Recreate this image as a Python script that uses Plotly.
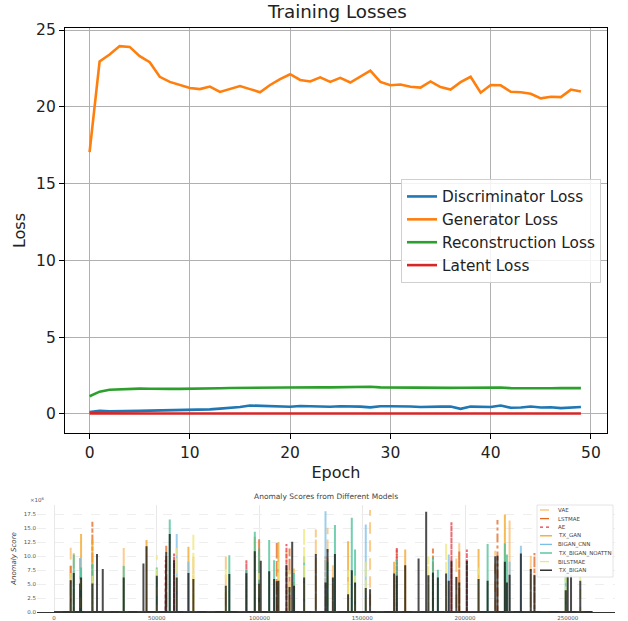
import plotly.graph_objects as go

W, H = 628, 621

# ---------------- Top chart data ----------------
epochs = list(range(50))
disc_loss = [0.12, 0.20, 0.17, 0.17, 0.16, 0.20, 0.22, 0.23, 0.25, 0.25,
             0.27, 0.30, 0.30, 0.35, 0.40, 0.45, 0.55, 0.53, 0.52, 0.48,
             0.47, 0.52, 0.50, 0.47, 0.47, 0.50, 0.50, 0.48, 0.43, 0.50,
             0.50, 0.50, 0.49, 0.45, 0.48, 0.48, 0.48, 0.33, 0.48, 0.48,
             0.45, 0.55, 0.40, 0.42, 0.48, 0.42, 0.44, 0.38, 0.40, 0.45]
gen_loss = [17.05, 22.95, 23.40, 23.95, 23.90, 23.30, 22.90, 21.95, 21.62, 21.42,
            21.22, 21.15, 21.32, 20.97, 21.15, 21.35, 21.15, 20.95, 21.42, 21.80,
            22.12, 21.75, 21.65, 21.92, 21.62, 21.88, 21.58, 21.95, 22.35, 21.62,
            21.40, 21.45, 21.30, 21.25, 21.65, 21.28, 21.12, 21.60, 21.95, 20.92,
            21.42, 21.40, 20.98, 20.95, 20.85, 20.55, 20.65, 20.63, 21.12, 21.00]
rec_loss = [1.15, 1.45, 1.58, 1.62, 1.63, 1.65, 1.64, 1.62, 1.63, 1.63,
            1.63, 1.64, 1.65, 1.67, 1.69, 1.70, 1.71, 1.71, 1.72, 1.73,
            1.75, 1.74, 1.73, 1.74, 1.73, 1.74, 1.73, 1.75, 1.77, 1.73,
            1.72, 1.72, 1.72, 1.71, 1.72, 1.71, 1.70, 1.71, 1.72, 1.70,
            1.72, 1.72, 1.68, 1.67, 1.67, 1.66, 1.67, 1.69, 1.69, 1.68]
lat_loss = [0.04, 0.03, 0.03, 0.03, 0.03, 0.03, 0.03, 0.03, 0.03, 0.03,
            0.03, 0.03, 0.03, 0.03, 0.03, 0.03, 0.03, 0.03, 0.03, 0.03,
            0.03, 0.03, 0.03, 0.03, 0.03, 0.03, 0.03, 0.03, 0.03, 0.03,
            0.03, 0.03, 0.03, 0.03, 0.03, 0.03, 0.03, 0.03, 0.03, 0.03,
            0.03, 0.03, 0.03, 0.03, 0.03, 0.03, 0.03, 0.03, 0.03, 0.03]
loss_names = ["Discriminator Loss", "Generator Loss", "Reconstruction Loss", "Latent Loss"]
loss_colors = ["#1f77b4", "#ff7f0e", "#2ca02c", "#d62728"]
epoch_ticks = [0, 10, 20, 30, 40, 50]
loss_ticks = [0, 5, 10, 15, 20, 25]

# ---------------- Bottom chart data (scores) ----------------
series_end = 262000
vae_x = [8100, 9600, 12650, 33900, 67800, 83600, 113100, 116800, 127400, 133100,
         135700, 153800, 195800, 197200, 214700, 221700, 232000]
vae_y = [12.1e6, 10.8e6, 10.3e6, 11.5e6, 10.0e6, 10.4e6, 11.6e6, 7.8e6, 14.8e6, 15.1e6,
         8.5e6, 18.3e6, 10.0e6, 12.4e6, 11.0e6, 16.4e6, 10.3e6]
lstmae_x = [8100, 18650, 54600, 99800, 108400, 114600, 132100, 166800, 184400, 197200,
            215800, 233800]
lstmae_y = [8.3e6, 16.2e6, 11.9e6, 13.1e6, 12.6e6, 11.4e6, 10.0e6, 11.2e6, 11.4e6, 11.0e6,
            16.5e6, 10.6e6]
ae_x = [54300, 58400, 93600, 113100, 166800, 193400, 200900]
ae_y = [9.3e6, 10.5e6, 9.3e6, 12.2e6, 11.6e6, 16.1e6, 11.2e6]
txgan_x = [13150, 18650, 45000, 65400, 97700, 109200, 143100, 165500, 170900, 206600, 219400]
txgan_y = [14.0e6, 13.0e6, 12.9e6, 11.7e6, 13.5e6, 12.5e6, 12.7e6, 9.0e6, 11.2e6, 11.3e6, 17.5e6]
bigancnn_x = [12650, 59700, 65400, 132100, 151700, 192100, 221700, 227200]
bigancnn_y = [9.7e6, 14.0e6, 9.0e6, 18.1e6, 15.7e6, 10.3e6, 9.0e6, 11.9e6]
noattn_x = [9600, 13150, 18650, 33900, 50000, 56300, 85300, 93600, 97700, 99800,
            104700, 107100, 116800, 121700, 133100, 136700, 144900, 146500, 166800, 184400,
            186800, 211000, 219400, 220400, 249000]
noattn_y = [10.3e6, 8.0e6, 8.7e6, 8.3e6, 8.0e6, 16.6e6, 10.2e6, 7.6e6, 14.4e6, 11.4e6,
            12.9e6, 9.3e6, 7.0e6, 10.0e6, 9.0e6, 15.6e6, 16.9e6, 11.2e6, 9.5e6, 9.8e6,
            7.6e6, 12.2e6, 12.3e6, 10.3e6, 6.8e6]
bilstmae_x = [8100, 12650, 18650, 50000, 59700, 67800, 83600, 99800, 109200, 114600,
              121700, 143100, 146500, 151700, 182200, 190800, 206600, 249000, 256100]
bilstmae_y = [7.0e6, 6.5e6, 6.5e6, 10.2e6, 11.5e6, 14.1e6, 8.5e6, 7.0e6, 9.0e6, 7.5e6,
              15.1e6, 7.5e6, 6.5e6, 9.3e6, 10.0e6, 12.4e6, 8.0e6, 6.5e6, 6.5e6]
txbigan_x = [8100, 9600, 12650, 13150, 18650, 20900, 23700, 33900, 43500, 45000,
             50000, 54300, 54600, 56300, 58400, 59700, 65400, 67800, 83600, 85300,
             93600, 97700, 99800, 100600, 104700, 107100, 108400, 109200, 113100, 114600,
             115900, 116800, 121700, 127400, 132100, 133100, 135700, 136700, 143100, 144900,
             146500, 151700, 153800, 165500, 166800, 170900, 177400, 181100, 182200, 184400,
             186800, 190800, 192100, 193400, 195800, 197200, 200900, 206600, 211000, 214700,
             215800, 219400, 220400, 221700, 227200, 232000, 233800, 249000, 250000, 251600,
             256100]
txbigan_y = [5.7e6, 7.0e6, 5.1e6, 6.2e6, 5.1e6, 10.4e6, 7.7e6, 6.2e6, 8.7e6, 11.8e6,
             6.5e6, 5.7e6, 10.7e6, 14.0e6, 9.3e6, 6.2e6, 7.0e6, 5.9e6, 4.7e6, 6.8e6,
             6.95e6, 10.9e6, 5.05e6, 9.2e6, 7.3e6, 5.9e6, 5.5e6, 5.6e6, 8.5e6, 4.5e6,
             12.6e6, 4.7e6, 6.2e6, 10.4e6, 5.3e6, 11.3e6, 6.2e6, 10.4e6, 3.2e6, 7.5e6,
             5.3e6, 4.3e6, 4.1e6, 6.9e6, 6.5e6, 8.4e6, 9.6e6, 18.0e6, 6.6e6, 7.1e6,
             6.2e6, 6.9e6, 5.6e6, 9.2e6, 6.3e6, 5.3e6, 9.2e6, 5.9e6, 5.6e6, 10.0e6,
             10.1e6, 9.0e6, 5.3e6, 6.7e6, 10.5e6, 7.7e6, 6.6e6, 3.9e6, 6.5e6, 6.6e6,
             5.6e6]
model_names = ["VAE", "LSTMAE", "AE", "TX_GAN", "BIGAN_CNN", "TX_BIGAN_NOATTN", "BILSTMAE", "TX_BIGAN"]
model_x = [vae_x, lstmae_x, ae_x, txgan_x, bigancnn_x, noattn_x, bilstmae_x, txbigan_x]
model_y = [vae_y, lstmae_y, ae_y, txgan_y, bigancnn_y, noattn_y, bilstmae_y, txbigan_y]
model_colors = ["#f9bd6a", "#e2661f", "#e63946", "#f4a522", "#7bbfe9", "#45bf96", "#ede87a", "#111111"]
model_dash = ["dash", "dashdot", "dot", "solid", "solid", "solid", "dash", "solid"]
score_ticks = [0, 2.5e6, 5e6, 7.5e6, 10e6, 12.5e6, 15e6, 17.5e6]
score_ticktext = ["0.0", "2.5", "5.0", "7.5", "10.0", "12.5", "15.0", "17.5"]
index_ticks = [0, 50000, 100000, 150000, 200000, 250000]


def px(x):
    return x / W


def py(y):
    return 1 - y / H


fig = go.Figure()

# top chart traces
for name, ys, col in zip(loss_names, [disc_loss, gen_loss, rec_loss, lat_loss], loss_colors):
    fig.add_trace(go.Scatter(x=epochs, y=ys, mode="lines", name=name,
                             line=dict(color=col, width=2.6),
                             legendgroup=name, xaxis="x", yaxis="y"))

# bottom chart traces: series that are zero except at anomaly spikes
for name, xs, ys, col, dash in zip(model_names, model_x, model_y, model_colors, model_dash):
    sx, sy = [0], [0]
    for p, h in zip(xs, ys):
        sx += [p, p, p]
        sy += [0, h, 0]
    sx.append(series_end)
    sy.append(0)
    fig.add_trace(go.Scatter(x=sx, y=sy, mode="lines", name=name, showlegend=False,
                             line=dict(color=col, width=2, dash=dash), opacity=0.75,
                             xaxis="x2", yaxis="y2", hoverinfo="skip"))

font_main = "DejaVu Sans, Arial, sans-serif"

fig.update_layout(
    width=W, height=H,
    margin=dict(l=0, r=0, t=0, b=0, autoexpand=False),
    paper_bgcolor="white", plot_bgcolor="white",
    font=dict(family=font_main, color="#222"),
    showlegend=True,
    legend=dict(x=px(601), y=py(179), xanchor="right", yanchor="top",
                bgcolor="rgba(255,255,255,0.85)", bordercolor="#d0d0d0", borderwidth=1,
                font=dict(size=15.3, color="#222"), tracegroupgap=0, traceorder="grouped",
                itemwidth=30),
    xaxis=dict(domain=[px(65), px(607)], range=[-2.45, 51.6], tickvals=epoch_ticks,
               showgrid=True, gridcolor="#b0b0b0", gridwidth=1, zeroline=False,
               showline=True, mirror=True, linecolor="black", linewidth=1.2,
               ticks="outside", ticklen=5, tickcolor="black", tickfont=dict(size=15.5),
               title=dict(text="Epoch", font=dict(size=16), standoff=6),
               automargin=False, anchor="y"),
    yaxis=dict(domain=[py(433), py(28)], range=[-1.24, 25.13], tickvals=loss_ticks,
               showgrid=True, gridcolor="#b0b0b0", gridwidth=1, zeroline=False,
               showline=True, mirror=True, linecolor="black", linewidth=1.2,
               ticks="outside", ticklen=5, tickcolor="black", tickfont=dict(size=15.5),
               title=dict(text="Loss", font=dict(size=16), standoff=6),
               automargin=False, anchor="x"),
    xaxis2=dict(domain=[px(37), px(615)], range=[-8300, 273000], tickvals=index_ticks,
                ticktext=[str(v) for v in index_ticks],
                showgrid=True, gridcolor="#e8e8e8", gridwidth=1, zeroline=False,
                showline=True, linecolor="#333", linewidth=1, mirror=False,
                ticks="", tickfont=dict(size=5.5, color="#555"),
                automargin=False, anchor="y2"),
    yaxis2=dict(domain=[py(612), py(505)], range=[0, 19.2e6], tickvals=score_ticks,
                ticktext=score_ticktext,
                showgrid=True, gridcolor="#eeeeee", gridwidth=1, griddash="dash", zeroline=False,
                showline=False, ticks="", tickfont=dict(size=5.5, color="#555"),
                title=dict(text="Anomaly Score", font=dict(size=7, color="#444", style="italic"),
                           standoff=6),
                automargin=False, anchor="x2"),
)

annotations = [
    dict(text="Training Losses", x=px(337), y=py(12), xref="paper", yref="paper",
         showarrow=False, xanchor="center", yanchor="middle", font=dict(size=18.3, color="#222")),
    dict(text="Anomaly Scores from Different Models", x=px(326), y=py(496), xref="paper",
         yref="paper", showarrow=False, xanchor="center", yanchor="middle",
         font=dict(size=7.5, color="#444")),
    dict(text="×10<sup>6</sup>", x=px(28), y=py(499), xref="paper", yref="paper",
         showarrow=False, xanchor="left", yanchor="middle", font=dict(size=5.5, color="#555")),
]

shapes = []
# manual legend for bottom chart
lx0, ly0, lx1, ly1 = 537, 505, 613, 577
shapes.append(dict(type="rect", xref="paper", yref="paper", x0=px(lx0), x1=px(lx1),
                   y0=py(ly1), y1=py(ly0), line=dict(color="#dddddd", width=0.8),
                   fillcolor="rgba(255,255,255,0.9)", layer="above"))
for i, (name, col, dash) in enumerate(zip(model_names, model_colors, model_dash)):
    yy = 510 + i * 8.6
    shapes.append(dict(type="line", xref="paper", yref="paper", x0=px(540), x1=px(552),
                       y0=py(yy), y1=py(yy), line=dict(color=col, width=1.3, dash=dash),
                       layer="above"))
    annotations.append(dict(text=name, x=px(556), y=py(yy), xref="paper", yref="paper",
                            showarrow=False, xanchor="left", yanchor="middle",
                            font=dict(size=5.5, color="#444")))

fig.update_layout(annotations=annotations, shapes=shapes)

fig.write_html("out.html", config={"displayModeBar": False},
               post_script="document.body.style.margin='0';")
